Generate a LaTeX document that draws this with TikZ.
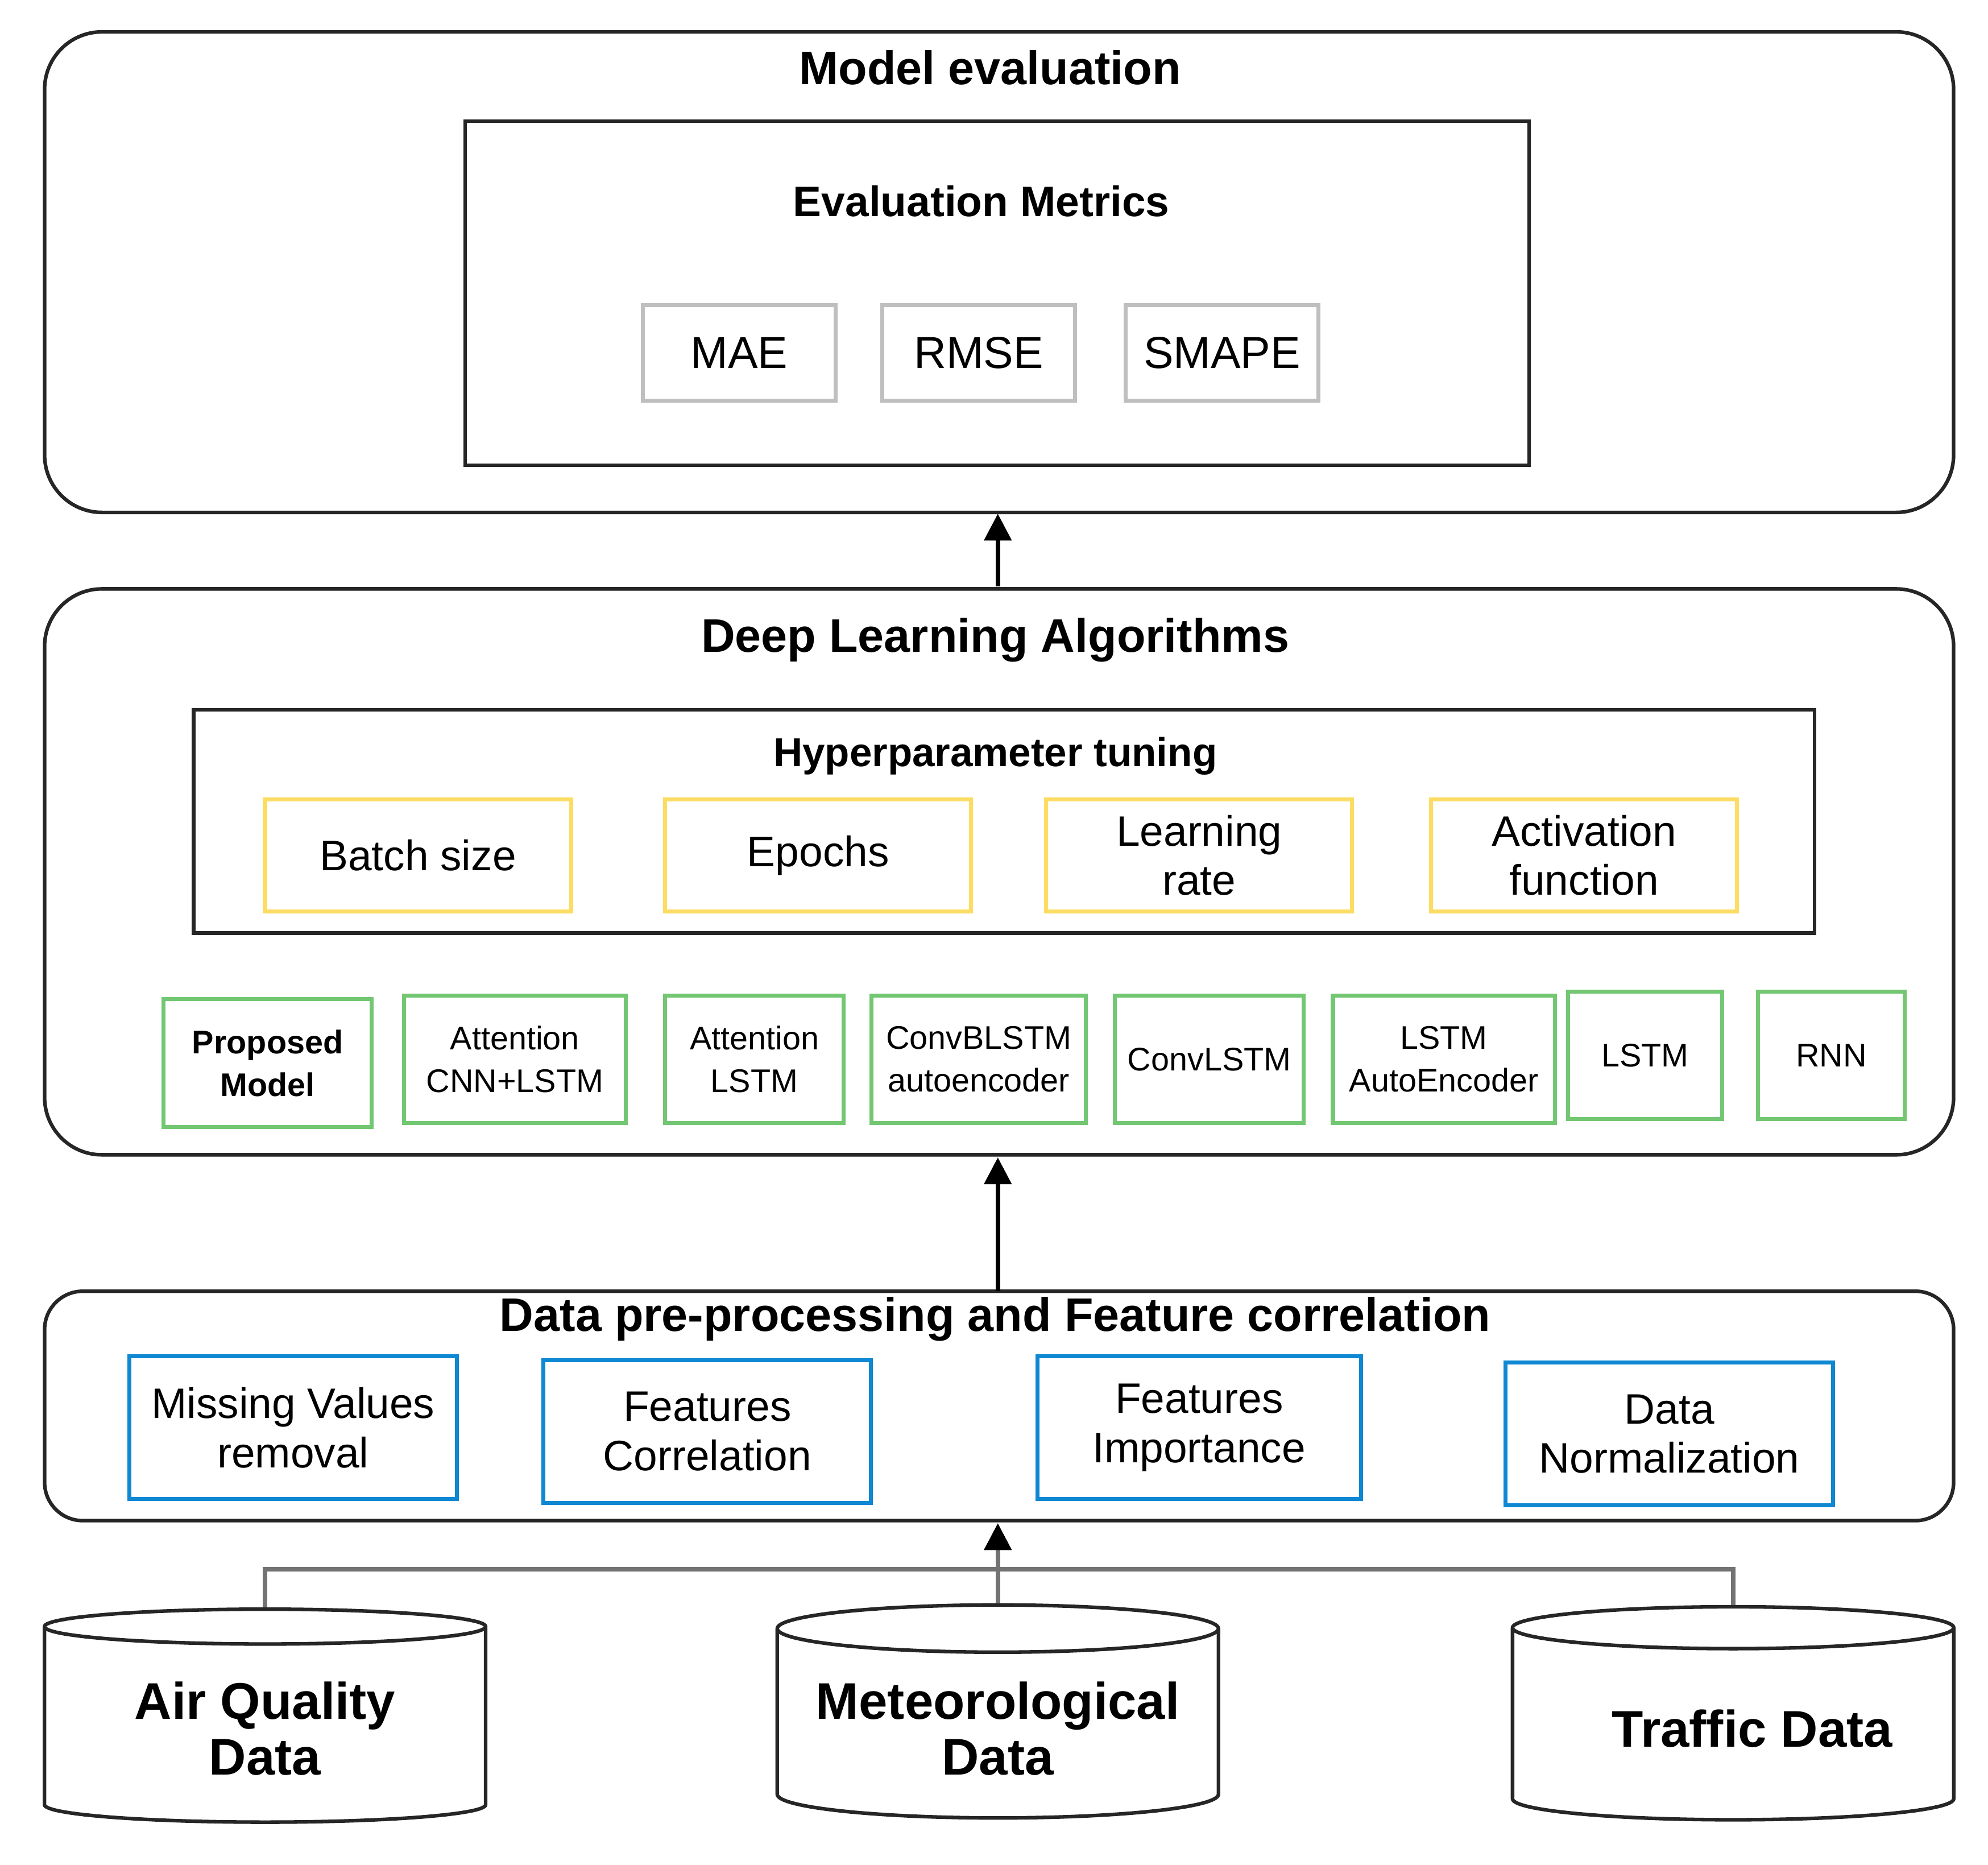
\documentclass[tikz,border=0pt]{standalone}
\usepackage{fontspec}
\setmainfont{Liberation Sans}
\usetikzlibrary{positioning, arrows.meta, shapes.geometric}

\begin{document}
\begin{tikzpicture}[
  x=0.01cm, y=-0.01cm,
  stage/.style={draw=black!85, line width=0.8pt, rounded corners=0.45cm},
  panel/.style={draw=black!85, line width=0.8pt},
  metric/.style={draw=black!25, line width=0.9pt, font=\fontsize{10}{12}\selectfont, minimum width=1.51cm, minimum height=0.75cm},
  hyper/.style={draw=yellow!60!orange!60, line width=0.9pt, font=\fontsize{9.5}{11}\selectfont, align=center, minimum width=2.40cm, minimum height=0.88cm},
  algo/.style={draw=green!60!black!55, line width=0.9pt, font=\fontsize{7.3}{9.5}\selectfont, align=center, minimum height=1.0cm, inner sep=1pt},
  prep/.style={draw=cyan!70!blue, line width=0.9pt, font=\fontsize{9.5}{11}\selectfont, align=center, minimum width=2.57cm, minimum height=1.12cm},
  source/.style={cylinder, shape border rotate=90, aspect=0.12, draw=black!85, line width=0.8pt, minimum width=3.46cm, minimum height=1.67cm, font=\bfseries\fontsize{11.5}{12.5}\selectfont, align=center},
  heading/.style={font=\bfseries\fontsize{10.5}{12}\selectfont},
  feed/.style={draw=black!55, line width=1pt}
]
\useasboundingbox (0,0) rectangle (1560,1463);

% model evaluation
\draw[stage] (35,25) rectangle (1533,402);
\node[heading] (evalT) at (777,53) {Model evaluation};
\draw[panel] (365,95) rectangle (1200,365);
\node[heading, font=\bfseries\fontsize{9.5}{11}\selectfont] (metT) at (770,158) {Evaluation Metrics};
\node[metric] (mae) at (580,277) {MAE};
\node[metric] (rmse) at (768,277) {RMSE};
\node[metric] (smape) at (959,277) {SMAPE};
\coordinate (evalB) at (783,403);

% deep learning
\draw[stage] (35,462) rectangle (1533,906);
\node[heading] (dlT) at (781,502) {Deep Learning Algorithms};
\draw[panel] (152,557) rectangle (1424,732);
\node[heading, font=\bfseries\fontsize{9}{11}\selectfont] (hypT) at (781,593) {Hyperparameter tuning};
\node[hyper] (batch) at (328,671) {Batch size};
\node[hyper] (epochs) at (642,671) {Epochs};
\node[hyper] (lr) at (941,671) {Learning\\rate};
\node[hyper] (act) at (1243,671) {Activation\\function};
\node[algo, minimum width=1.63cm, font=\bfseries\fontsize{7.3}{9.5}\selectfont] (prop) at (210,834) {Proposed\\Model};
\node[algo, minimum width=1.74cm] (acl) at (404,831) {Attention\\CNN+LSTM};
\node[algo, minimum width=1.40cm] (al) at (592,831) {Attention\\LSTM};
\node[algo, minimum width=1.68cm] (cbl) at (768,831) {ConvBLSTM\\autoencoder};
\node[algo, minimum width=1.48cm] (cl) at (949,831) {ConvLSTM};
\node[algo, minimum width=1.74cm] (lae) at (1133,831) {LSTM\\AutoEncoder};
\node[algo, minimum width=1.21cm] (lstm) at (1291,828) {LSTM};
\node[algo, minimum width=1.15cm] (rnn) at (1437,828) {RNN};
\coordinate (dlT0) at (783,460);
\coordinate (dlB) at (783,908);

% pre-processing
\draw[stage, rounded corners=0.3cm] (35,1013) rectangle (1533,1193);
\node[heading] (preT) at (781,1035) {Data pre-processing and Feature correlation};
\node[prep] (miss) at (230,1120) {Missing Values\\removal};
\node[prep] (fcor) at (555,1123) {Features\\Correlation};
\node[prep, minimum width=2.54cm] (fimp) at (941,1120) {Features\\Importance};
\node[prep] (norm) at (1310,1125) {Data\\Normalization};
\coordinate (preT0) at (783,1013);
\coordinate (preB) at (783,1195);

% data sources
\node[source] (air) at (208,1356) {Air Quality\\Data};
\node[source] (met) at (783,1356) {Meteorological\\Data};
\node[source] (traffic) at (1360,1356) {\hspace*{0.3cm}Traffic Data};

\draw[feed] (air.top) |- (783,1231) -| (traffic.top);
\draw[feed] (met.top) -- (783,1215);
\draw[line width=1pt, -{Triangle[length=6pt,width=6pt]}] (783,1216) -- (preB);
\draw[line width=1pt, -{Triangle[length=6pt,width=6pt]}] (preT0) -- (dlB);
\draw[line width=1pt, -{Triangle[length=6pt,width=6pt]}] (dlT0) -- (evalB);
\end{tikzpicture}
\end{document}
